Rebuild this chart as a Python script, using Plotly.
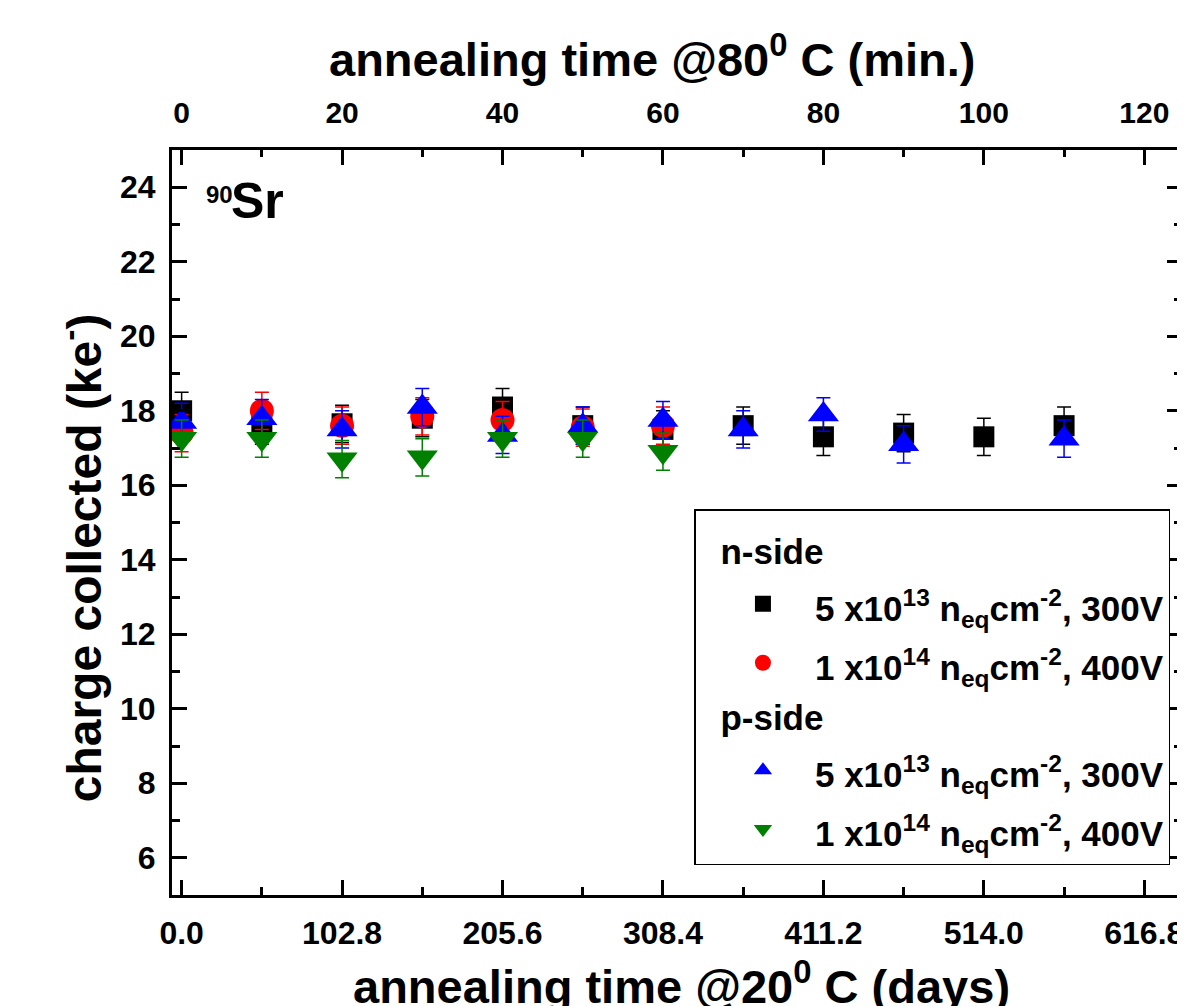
import plotly.graph_objects as go

# ---------------- data ----------------
minutes_all = [0, 10, 20, 30, 40, 50, 60, 70, 80, 90, 100, 110]
minutes_blue = [0, 10, 20, 30, 40, 50, 60, 70, 80, 90, 110]
minutes_short = [0, 10, 20, 30, 40, 50, 60]

n_5e13 = [18.0, 17.6, 17.65, 17.8, 18.1, 17.6, 17.5, 17.6, 17.3, 17.4, 17.3, 17.6]
n_5e13_err = [0.5, 0.5, 0.5, 0.5, 0.5, 0.5, 0.5, 0.5, 0.5, 0.5, 0.5, 0.5]

n_1e14 = [17.4, 18.0, 17.6, 17.85, 17.75, 17.55, 17.6]
n_1e14_err = [0.5, 0.5, 0.5, 0.5, 0.5, 0.5, 0.5]

p_5e13 = [17.7, 17.8, 17.5, 18.1, 17.35, 17.6, 17.75, 17.5, 17.9, 17.1, 17.25]
p_5e13_err = [0.5, 0.5, 0.5, 0.5, 0.5, 0.5, 0.5, 0.5, 0.45, 0.5, 0.5]

p_1e14 = [17.25, 17.25, 16.7, 16.75, 17.25, 17.25, 16.9]
p_1e14_err = [0.5, 0.5, 0.5, 0.5, 0.5, 0.5, 0.5]

names = [
    "5 x10<sup>13</sup> n<sub>eq</sub>cm<sup>-2</sup>, 300V",
    "1 x10<sup>14</sup> n<sub>eq</sub>cm<sup>-2</sup>, 400V",
    "5 x10<sup>13</sup> n<sub>eq</sub>cm<sup>-2</sup>, 300V",
    "1 x10<sup>14</sup> n<sub>eq</sub>cm<sup>-2</sup>, 400V",
]
group_titles = ["n-side", "p-side"]

# axis definitions
min_range = [-1.2, 124.7]         # top axis, minutes @80C
days_per_min = 102.8 / 20         # bottom axis, days @20C
days_dtick = 102.8
y_range = [5, 25]

FONT = "Liberation Sans, Arial, sans-serif"
NB = "\u00a0"

fig = go.Figure()

series = [
    (minutes_all, n_5e13, n_5e13_err, "square", 21, "#000000", "n", 0),
    (minutes_short, n_1e14, n_1e14_err, "circle", 24, "#ff0000", "n", 1),
    (minutes_blue, p_5e13, p_5e13_err, "triangle-up", 27, "#0000ff", "p", 2),
    (minutes_short, p_1e14, p_1e14_err, "triangle-down", 27, "#008000", "p", 3),
]
for xs, ys, es, sym, size, col, grp, i in series:
    gt = group_titles[0] if grp == "n" else group_titles[1]
    fig.add_trace(go.Scatter(
        x=xs, y=ys, xaxis="x2", yaxis="y", mode="markers",
        name='<span style="font-size:35px">' + names[i] + "</span>", legendgroup=grp,
        legendgrouptitle=dict(text=NB * 2 + gt,
                              font=dict(family=FONT, size=35, color="black", weight="bold")),
        marker=dict(symbol=sym, size=size, color=col, line=dict(width=0)),
        error_y=dict(type="data", array=es, visible=True, color=col, thickness=1.5, width=7),
    ))

# empty trace so that the bottom (days) axis gets its own subplot drawn
fig.add_trace(go.Scatter(x=[], y=[], xaxis="x", yaxis="y", mode="markers",
                         showlegend=False, hoverinfo="skip"))

tickfont = dict(family=FONT, size=32, color="black", weight="bold")

fig.update_layout(
    width=1177, height=998,
    margin=dict(l=164, r=0, t=142, b=111),
    paper_bgcolor="white", plot_bgcolor="white",
    showlegend=True,
    legend=dict(
        x=(696 - 172) / 1013, y=(895 - 509) / 745, xanchor="left", yanchor="top",
        bordercolor="black", borderwidth=1.5, bgcolor="white",
        font=dict(family=FONT, size=43, color="black", weight="bold"),
        title=dict(text=NB, font=dict(family=FONT, size=8, color="black")),
        tracegroupgap=0, itemsizing="trace", itemwidth=94, indentation=15,
    ),
    xaxis=dict(
        range=[min_range[0] * days_per_min, min_range[1] * days_per_min],
        tick0=0, dtick=days_dtick, tickformat=".1f",
        ticks="inside", ticklen=15, tickwidth=2.5, tickcolor="black",
        showline=True, linewidth=3, linecolor="black", mirror=False,
        showgrid=False, zeroline=False, tickfont=tickfont, ticklabelstandoff=8,
        minor=dict(dtick=days_dtick / 2, tick0=0, ticks="inside", ticklen=8, tickwidth=2.5,
                   tickcolor="black", showgrid=False),
    ),
    xaxis2=dict(
        range=min_range, overlaying="x", side="top", anchor="y",
        tick0=0, dtick=20,
        ticks="inside", ticklen=15, tickwidth=2.5, tickcolor="black",
        showline=True, linewidth=3, linecolor="black",
        showgrid=False, zeroline=False, ticklabelstandoff=12,
        tickfont=dict(family=FONT, size=30, color="black", weight="bold"),
        minor=dict(dtick=10, tick0=0, ticks="inside", ticklen=7, tickwidth=2.5,
                   tickcolor="black", showgrid=False),
    ),
    yaxis=dict(
        range=y_range, tick0=0, dtick=2,
        ticks="inside", ticklen=15, tickwidth=2.5, tickcolor="black",
        showline=True, linewidth=3, linecolor="black", mirror="ticks",
        showgrid=False, zeroline=False, tickfont=tickfont, ticklabelstandoff=7,
        minor=dict(dtick=1, tick0=0, ticks="inside", ticklen=8, tickwidth=2.5,
                   tickcolor="black", showgrid=False),
    ),
)

# screen-pixel helpers (plot area spans x 172..1185, y 150..895 on screen)
def px_x(p):
    return (p - 172) / 1013

def px_y(p):
    return (895 - p) / 745

ann_font = dict(family=FONT, color="black", weight="bold")
fig.add_annotation(text="annealing time @80<sup>0</sup> C (min.)", xref="paper", yref="paper",
                   x=px_x(654), y=px_y(56), xanchor="center", yanchor="middle",
                   showarrow=False, font=dict(size=47, **ann_font))
fig.add_annotation(text="annealing time @20<sup>0</sup> C (days)", xref="paper", yref="paper",
                   x=px_x(683), y=px_y(983), xanchor="center", yanchor="middle",
                   showarrow=False, font=dict(size=47, **ann_font))
fig.add_annotation(text="charge collected (ke<sup>-</sup>)", xref="paper", yref="paper",
                   x=px_x(81), y=px_y(558), xanchor="center", yanchor="middle", textangle=-90,
                   showarrow=False, font=dict(size=48, **ann_font))
fig.add_annotation(text="90", xref="paper", yref="paper",
                   x=px_x(204), y=px_y(194.5), xanchor="left", yanchor="middle",
                   showarrow=False, font=dict(size=24, **ann_font))
fig.add_annotation(text="Sr", xref="paper", yref="paper",
                   x=px_x(229), y=px_y(201), xanchor="left", yanchor="middle",
                   showarrow=False, font=dict(size=50, **ann_font))

fig.write_html("out.html")
